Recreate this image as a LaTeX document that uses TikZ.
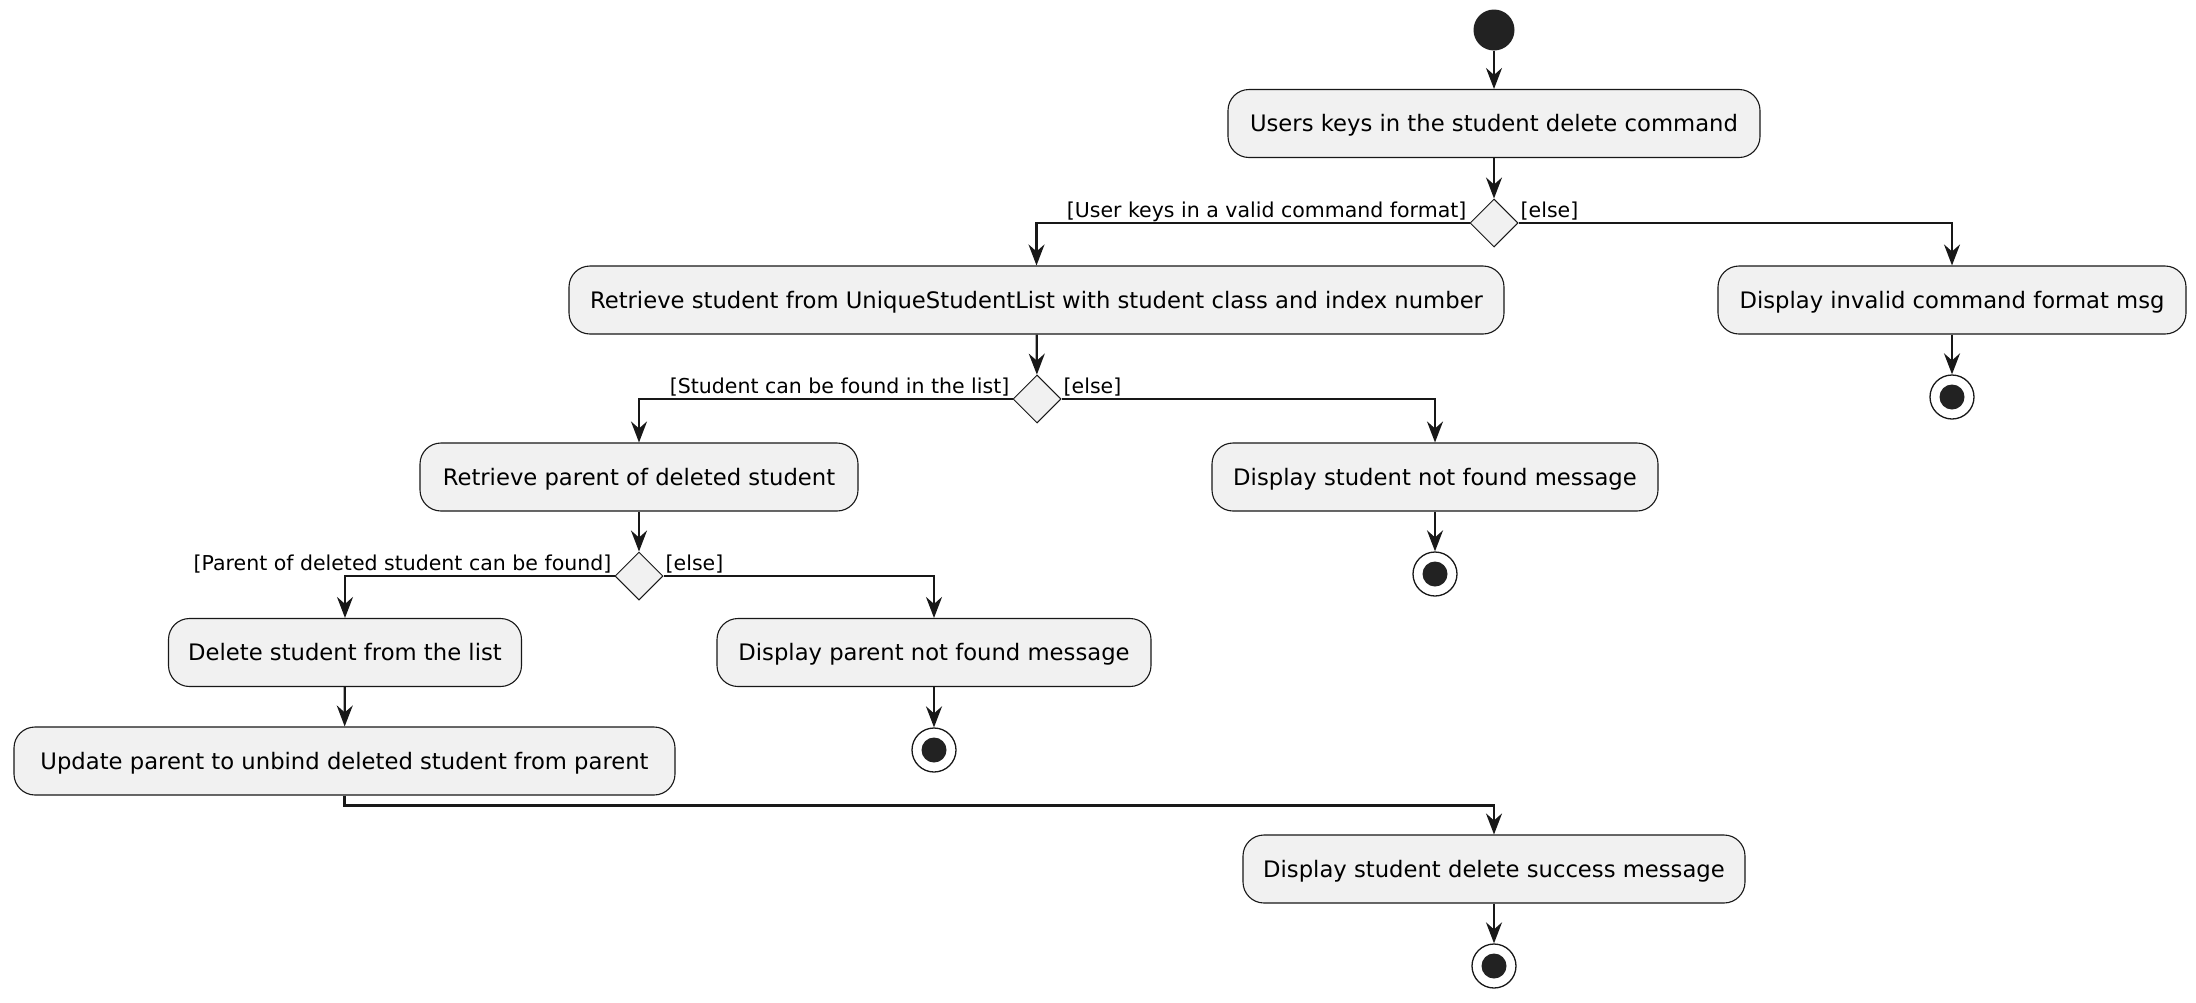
\documentclass[tikz,border=0pt]{standalone}
\usepackage{fontspec}
\setmainfont{DejaVu Sans}
\usetikzlibrary{arrows.meta,shapes.geometric}
\definecolor{boxfill}{HTML}{F1F1F1}
\definecolor{ink}{HTML}{181818}
\definecolor{dot}{HTML}{222222}
\begin{document}
\begin{tikzpicture}[x=1pt,y=-1pt]
\tikzset{
 act/.style={draw=ink, line width=1.1pt, fill=boxfill, rounded corners=21pt, minimum height=68pt, inner sep=0pt, text height=16.6pt, text depth=0pt, font=\fontsize{22.7}{27}\selectfont, text=black},
 dec/.style={draw=ink, line width=1pt, fill=boxfill, diamond, minimum width=48pt, minimum height=48pt, inner sep=0pt, shape aspect=1},
 arr/.style={draw=ink, line width=2.2pt, -{Stealth[length=21pt,width=16pt,inset=7pt]}},
 lbl/.style={font=\fontsize{20.5}{24}\selectfont, inner sep=0pt, text=black},
 startdot/.style={circle, fill=dot, minimum size=41pt, inner sep=0pt},
 enddot/.style={circle, draw=ink, line width=1.3pt, fill=white, minimum size=44pt, inner sep=0pt, path picture={\fill[dot] (path picture bounding box.center) circle (12.5pt);}},
}
\useasboundingbox[fill=white] (0,0) rectangle (2196,1002);

% nodes
\node[startdot] (s) at (1494,30) {};
\node[act, minimum width=532pt] (b1) at (1494,123.5) {Users keys in the student delete command};
\node[dec] (d1) at (1494,223) {};
\node[act, minimum width=935pt] (b2) at (1036.5,300) {Retrieve student from UniqueStudentList with student class and index number};
\node[act, minimum width=468pt] (b3) at (1952,300) {Display invalid command format msg};
\node[enddot] (e3) at (1952,397) {};
\node[dec] (d2) at (1037,399) {};
\node[act, minimum width=438pt] (b4) at (639,477) {Retrieve parent of deleted student};
\node[act, minimum width=446pt] (b5) at (1435,477) {Display student not found message};
\node[enddot] (e5) at (1435,574) {};
\node[dec] (d3) at (639,576) {};
\node[act, minimum width=353pt] (b6) at (345,652.5) {Delete student from the list};
\node[act, minimum width=434pt] (b7) at (934,652.5) {Display parent not found message};
\node[enddot] (e7) at (934,750) {};
\node[act, minimum width=661pt] (b8) at (344.5,761) {Update parent to unbind deleted student from parent};
\node[act, minimum width=502pt] (b9) at (1494,869) {Display student delete success message};
\node[enddot] (e9) at (1494,966) {};

% guard labels
\node[lbl, anchor=base east] (l1a) at ([xshift=-3pt,yshift=6pt]d1.west) {[User keys in a valid command format]};
\node[lbl, anchor=base west] (l1b) at ([xshift=2pt,yshift=6pt]d1.east) {[else]};
\node[lbl, anchor=base east] (l2a) at ([xshift=-3pt,yshift=6pt]d2.west) {[Student can be found in the list]};
\node[lbl, anchor=base west] (l2b) at ([xshift=2pt,yshift=6pt]d2.east) {[else]};
\node[lbl, anchor=base east] (l3a) at ([xshift=-3pt,yshift=6pt]d3.west) {[Parent of deleted student can be found]};
\node[lbl, anchor=base west] (l3b) at ([xshift=2pt,yshift=6pt]d3.east) {[else]};

% connectors
\draw[arr] (s) -- (b1);
\draw[arr] (b1) -- (d1);
\draw[arr] (d1.west) -| (b2.north);
\draw[arr] (d1.east) -| (b3.north);
\draw[arr] (b3) -- (e3);
\draw[arr] (b2) -- (d2);
\draw[arr] (d2.west) -| (b4.north);
\draw[arr] (d2.east) -| (b5.north);
\draw[arr] (b5) -- (e5);
\draw[arr] (b4) -- (d3);
\draw[arr] (d3.west) -| (b6.north);
\draw[arr] (d3.east) -| (b7.north);
\draw[arr] (b7) -- (e7);
\draw[arr] (b6) -- (b8);
\draw[arr] (b8.south) -- ++(0,10) -| (b9.north);
\draw[arr] (b9) -- (e9);
\end{tikzpicture}
\end{document}
